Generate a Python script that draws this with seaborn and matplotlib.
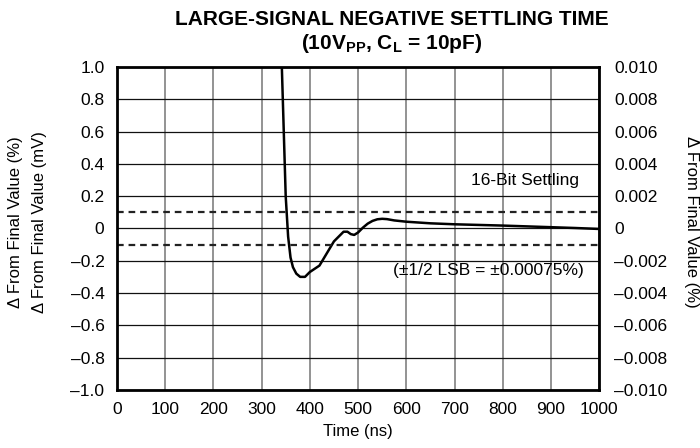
import matplotlib
matplotlib.use("Agg")
import matplotlib.pyplot as plt
import seaborn as sns
import pandas as pd

# settling waveform (ns, mV)
time_ns = [340, 345, 350, 355, 360, 365, 372, 380, 390, 400, 410, 420, 430,
           440, 450, 460, 470, 478, 485, 492, 500, 510, 520, 530, 540, 550,
           560, 575, 600, 650, 700, 750, 800, 850, 900, 950, 1000]
delta_mv = [1.2, 0.7, 0.2, -0.05, -0.18, -0.24, -0.28, -0.30, -0.30, -0.27,
            -0.25, -0.23, -0.18, -0.13, -0.08, -0.05, -0.02, -0.02, -0.035,
            -0.04, -0.025, 0.005, 0.03, 0.047, 0.057, 0.06, 0.058, 0.05,
            0.042, 0.032, 0.026, 0.022, 0.018, 0.013, 0.008, 0.003, -0.003]

settle_band = [0.1, -0.1]
x_ticks = list(range(0, 1001, 100))
left_ticks = [1.0, 0.8, 0.6, 0.4, 0.2, 0.0, -0.2, -0.4, -0.6, -0.8, -1.0]
right_ticks = [0.010, 0.008, 0.006, 0.004, 0.002, 0.0, -0.002, -0.004,
               -0.006, -0.008, -0.010]

df = pd.DataFrame({"Time": time_ns, "Delta": delta_mv})

sns.set_style("white")
plt.rcParams["font.family"] = ["Liberation Sans", "DejaVu Sans"]
plt.rcParams["mathtext.default"] = "regular"
plt.rcParams["text.color"] = "black"
plt.rcParams["xtick.color"] = "black"
plt.rcParams["ytick.color"] = "black"
plt.rcParams["axes.labelcolor"] = "black"

fig = plt.figure(figsize=(7, 4.48), dpi=100)
ax = fig.add_axes([0.167, 0.13, 0.689, 0.72])

sns.lineplot(data=df, x="Time", y="Delta", ax=ax, color="black", lw=1.8)
for lvl in settle_band:
    ax.axhline(lvl, color="#222222", lw=1.6, ls=(0, (3, 2.2)))

ax.set_xlim(0, 1000)
ax.set_ylim(-1.0, 1.0)
ax.set_xticks(x_ticks)
ax.set_yticks(left_ticks)


def fmt(v, dec):
    if abs(v) < 1e-12:
        return "0"
    s = f"{v:.{dec}f}"
    return s.replace("-", "\u2013")


ax.set_yticklabels([fmt(v, 1) for v in left_ticks])
ax.set_xticklabels([str(v) for v in x_ticks])
ax.tick_params(length=0, labelsize=12.5, pad=9)
ax.xaxis.grid(True, color="#808080", lw=1.2)
ax.yaxis.grid(True, color="#111111", lw=0.9)
for sp in ax.spines.values():
    sp.set_linewidth(2)
    sp.set_color("black")
ax.set_xlabel("Time (ns)", fontsize=12, labelpad=5)
ax.set_ylabel("")

ax2 = ax.twinx()
ax2.set_ylim(-0.010, 0.010)
ax2.set_yticks(right_ticks)
ax2.set_yticklabels([fmt(v, 3) for v in right_ticks])
ax2.tick_params(length=0, labelsize=12.5, pad=11)
for sp in ax2.spines.values():
    sp.set_visible(False)

ax.text(959, 0.30, "16-Bit Settling", ha="right", va="center", fontsize=12.5)
ax.text(969, -0.26, "(\u00b11/2 LSB = \u00b10.00075%)", ha="right",
        va="center", fontsize=12.5)

fig.text(0.057, 0.505, "\u0394 From Final Value (mV)", rotation=90,
         ha="center", va="center", fontsize=12)
fig.text(0.022, 0.505, "\u0394 From Final Value (%)", rotation=90,
         ha="center", va="center", fontsize=12)
fig.text(0.988, 0.505, "\u0394 From Final Value (%)", rotation=270,
         ha="center", va="center", fontsize=12)

fig.text(0.56, 0.978, "LARGE-SIGNAL NEGATIVE SETTLING TIME", ha="center",
         va="top", fontsize=15, fontweight="bold")
fig.text(0.56, 0.928, r"(10V$_{PP}$, C$_{L}$ = 10pF)", ha="center",
         va="top", fontsize=15, fontweight="bold")

fig.savefig("out.png", dpi=100)
